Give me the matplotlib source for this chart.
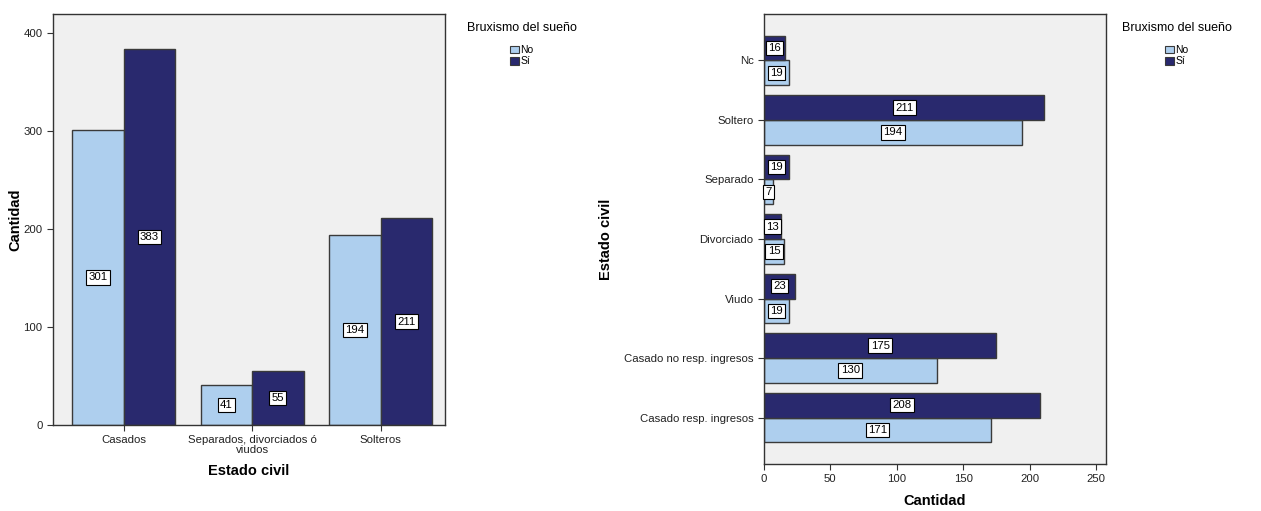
import numpy as np
import matplotlib.pyplot as plt
from matplotlib.patches import Patch

plt.rcParams['font.family'] = ['Liberation Sans', 'DejaVu Sans']

# Left chart data (grouped categories)
left_cats = ['Casados', 'Separados, divorciados ó\nviudos', 'Solteros']
left_no = [301, 41, 194]
left_si = [383, 55, 211]

# Right chart data (detailed categories, bottom to top)
right_cats = ['Casado resp. ingresos', 'Casado no resp. ingresos', 'Viudo',
              'Divorciado', 'Separado', 'Soltero', 'Nc']
right_no = [171, 130, 19, 15, 7, 194, 19]
right_si = [208, 175, 23, 13, 19, 211, 16]

series = ['No', 'Sí']
col_no = '#AECFEE'
col_si = '#29296E'
edge = '#3A3A3A'
bg = '#F0F0F0'

W, H = 1261, 511
fig = plt.figure(figsize=(W / 100, H / 100), dpi=100)


def box(l, t, r, b):
    return [l / W, 1 - b / H, (r - l) / W, (b - t) / H]


label_box = dict(boxstyle='square,pad=0.2', fc='white', ec='black', lw=0.8)


def style_axes(ax):
    ax.set_facecolor(bg)
    for s in ax.spines.values():
        s.set_color('#333333')
        s.set_linewidth(1.0)
    ax.tick_params(labelsize=8.2, length=4, width=0.8, color='#333333', labelcolor='#222222')


def add_legend(ax, x, y):
    handles = [Patch(fc=col_no, ec=edge, lw=0.8), Patch(fc=col_si, ec=edge, lw=0.8)]
    leg = fig.legend(handles, series, title='Bruxismo del sueño', loc='upper left',
                     bbox_to_anchor=(x / W, 1 - y / H), frameon=False, fontsize=7.5,
                     title_fontsize=9, handlelength=0.8, handleheight=0.8,
                     handletextpad=0.15, labelspacing=0.1, borderpad=0, borderaxespad=0)
    leg._legend_box.sep = 8
    return leg


# ---- left chart: vertical bars ----
ax1 = fig.add_axes(box(53, 14, 445, 425))
style_axes(ax1)
x = np.arange(len(left_cats))
w = 0.4
b1 = ax1.bar(x - w / 2, left_no, w, color=col_no, edgecolor=edge, lw=1.0)
b2 = ax1.bar(x + w / 2, left_si, w, color=col_si, edgecolor=edge, lw=1.0)
for bars, vals in ((b1, left_no), (b2, left_si)):
    for rect, v in zip(bars, vals):
        ax1.text(rect.get_x() + rect.get_width() / 2, v / 2, str(v), ha='center', va='center',
                 fontsize=8.2, bbox=label_box, zorder=5)
ax1.set_xlim(-0.55, 2.50)
ax1.set_ylim(0, 419)
ax1.set_yticks([0, 100, 200, 300, 400])
ax1.set_xticks(x)
ax1.set_xticklabels(left_cats, linespacing=0.9)
ax1.set_xlabel('Estado civil', fontsize=10.5, fontweight='bold', labelpad=7)
ax1.set_ylabel('Cantidad', fontsize=10.5, fontweight='bold', labelpad=1)
add_legend(ax1, 467, 22)

# ---- right chart: horizontal bars ----
ax2 = fig.add_axes(box(764, 14, 1106, 464))
style_axes(ax2)
y = np.arange(len(right_cats))
h = 0.415
c1 = ax2.barh(y - h / 2, right_no, h, color=col_no, edgecolor=edge, lw=1.0)
c2 = ax2.barh(y + h / 2, right_si, h, color=col_si, edgecolor=edge, lw=1.0)
for bars, vals in ((c1, right_no), (c2, right_si)):
    for rect, v in zip(bars, vals):
        ax2.text(v / 2, rect.get_y() + rect.get_height() / 2, str(v), ha='center', va='center',
                 fontsize=8.2, bbox=label_box, zorder=5, clip_on=False)
ax2.set_xlim(0, 257.5)
ax2.set_ylim(-0.78, 6.78)
ax2.set_xticks([0, 50, 100, 150, 200, 250])
ax2.set_yticks(y)
ax2.set_yticklabels(right_cats)
ax2.set_xlabel('Cantidad', fontsize=10.5, fontweight='bold', labelpad=7)
ax2.set_ylabel('Estado civil', fontsize=10.5, fontweight='bold', labelpad=8)
add_legend(ax2, 1122, 22)

fig.savefig('out.png', dpi=100, facecolor='white')
